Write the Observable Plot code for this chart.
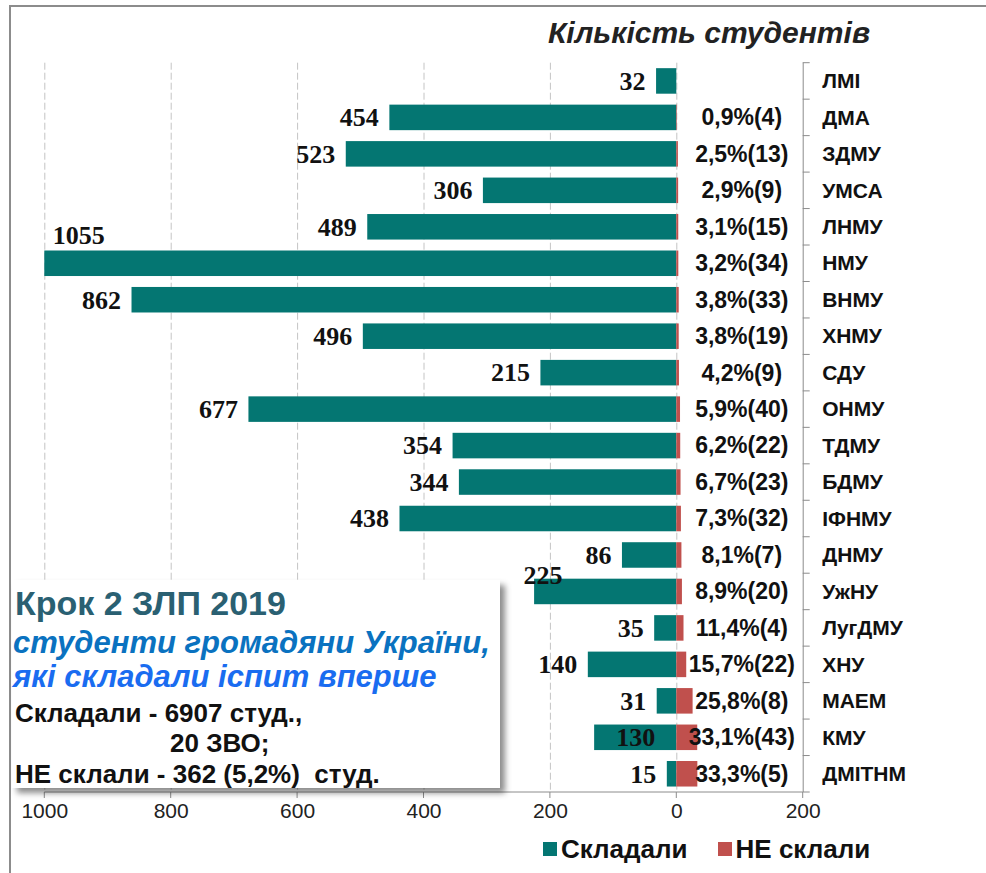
<!DOCTYPE html>
<html>
<head>
<meta charset="utf-8">
<script src="https://cdn.jsdelivr.net/npm/d3@7"></script>
<script src="https://cdn.jsdelivr.net/npm/@observablehq/plot@0.6"></script>
<style>
  body { margin: 0; background: #fff; }
  #wrap { position: relative; width: 986px; height: 873px; overflow: hidden; font-family: "Liberation Sans", Arial, sans-serif; background: #fff; }
  #chart { position: absolute; left: 0; top: 0; }
  .fr { position: absolute; background: #8c8c8c; }
  #title { position: absolute; right: 116px; top: 18px; font: italic bold 30px/30px "Liberation Sans", Arial, sans-serif; color: #222; white-space: nowrap; }
  #legend { position: absolute; left: 543px; top: 836px; height: 26px; display: flex; align-items: center; font: bold 26px/26px "Liberation Sans", Arial, sans-serif; color: #111; white-space: nowrap; }
  #legend .sw { width: 14px; height: 14px; display: inline-block; margin-right: 4px; }
  #legend .item { display: flex; align-items: center; margin-right: 30px; }
  #box { position: absolute; left: 12px; top: 580px; width: 488px; height: 208px; background: #fff; box-shadow: 5px 5px 6px rgba(0,0,0,0.45); }
  #box div { position: absolute; white-space: nowrap; font-weight: bold; }
</style>
</head>
<body>
<div id="wrap">
  <div id="chart"></div>
  <div class="fr" style="left:9px;top:5px;width:977px;height:2px;"></div>
  <div class="fr" style="left:9px;top:5px;width:2px;height:868px;"></div>
  <div id="title">Кількість студентів</div>
  <div id="box">
    <div style="left:3px;top:6px;font-size:34px;line-height:34px;color:#2a6072;">Крок 2 ЗЛП 2019</div>
    <div style="left:1px;top:47px;font-size:31px;line-height:31px;font-style:italic;color:#0a72c0;">студенти громадяни України,</div>
    <div style="left:1px;top:81px;font-size:31px;line-height:31px;font-style:italic;color:#1a6cf0;">які складали іспит вперше</div>
    <div style="left:3px;top:120px;font-size:26px;line-height:26px;color:#111;">Складали - 6907 студ.,</div>
    <div style="left:158px;top:150px;font-size:26px;line-height:26px;color:#111;">20 ЗВО;</div>
    <div style="left:3px;top:181px;font-size:26px;line-height:26px;color:#111;">НЕ склали - 362 (5,2%)&nbsp; студ.</div>
  </div>
  <div id="legend">
    <span class="item"><span class="sw" style="background:#047672"></span>Складали</span>
    <span class="item"><span class="sw" style="background:#c0504d"></span>НЕ склали</span>
  </div>
</div>
<script>
// ---- data ----
const categories = ["ЛМІ","ДМА","ЗДМУ","УМСА","ЛНМУ","НМУ","ВНМУ","ХНМУ","СДУ","ОНМУ","ТДМУ","БДМУ","ІФНМУ","ДНМУ","УжНУ","ЛугДМУ","ХНУ","МАЕМ","КМУ","ДМІТНМ"];
const tookExam   = [32, 454, 523, 306, 489, 1055, 862, 496, 215, 677, 354, 344, 438, 86, 225, 35, 140, 31, 130, 15];
const failedPct  = [0, 0.9, 2.5, 2.9, 3.1, 3.2, 3.8, 3.8, 4.2, 5.9, 6.2, 6.7, 7.3, 8.1, 8.9, 11.4, 15.7, 25.8, 33.1, 33.3];
const failedCnt  = [0, 4, 13, 9, 15, 34, 33, 19, 9, 40, 22, 23, 32, 7, 20, 4, 22, 8, 43, 5];
const xTicks = [-1000, -800, -600, -400, -200, 0, 200];

const teal = "#047672", red = "#c0504d";
const rows = categories.map((c, i) => ({cat: c, took: tookExam[i], pct: failedPct[i], n: failedCnt[i]}));
const pctLabel = d => d.pct.toFixed(1).replace(".", ",") + "%(" + d.n + ")";

// special label placements of the original
const aboveLeft = new Set(["НМУ"]);   // clipped bar, label above
const aboveBar = new Set(["УжНУ"]);
const insideBar = new Set(["КМУ"]);
const normal = rows.filter(d => !aboveLeft.has(d.cat) && !aboveBar.has(d.cat) && !insideBar.has(d.cat));

const W = 986, H = 873;
const mL = 44.3, mR = W - 802.7, mT = 62.7, mB = H - 792;

const numFont = {fontFamily: "Liberation Serif, Times New Roman, serif", fontWeight: "bold", fontSize: 26, fill: "#111"};

function rowTicks(index, scales, values, dims) {
  const g = d3.create("svg:g").attr("stroke", "#8c8c8c").attr("stroke-width", 1);
  const n = categories.length;
  const step = (dims.height - dims.marginTop - dims.marginBottom) / n;
  const xa = scales.x(200);
  for (let i = 0; i <= n; i++) {
    const yy = dims.marginTop + i * step;
    g.append("line").attr("x1", xa).attr("x2", xa + 7).attr("y1", yy).attr("y2", yy);
  }
  return g.node();
}
function bottomLine(index, scales, values, dims) {
  const yy = dims.height - dims.marginBottom;
  return d3.create("svg:line")
    .attr("x1", scales.x(-1000)).attr("x2", scales.x(200))
    .attr("y1", yy).attr("y2", yy)
    .attr("stroke", "#8c8c8c").attr("stroke-width", 1).node();
}

const chart = Plot.plot({
  width: W, height: H,
  marginLeft: mL, marginRight: mR, marginTop: mT, marginBottom: mB,
  x: {domain: [-1000, 200], axis: null},
  y: {domain: categories, paddingInner: 0.3, paddingOuter: 0.15, round: false, axis: null},
  style: {fontFamily: "Liberation Sans, Arial, sans-serif", background: "transparent", overflow: "visible"},
  marks: [
    Plot.ruleX(xTicks.filter(t => t <= 0), {stroke: "#c4c4c4", strokeDasharray: "7,3", strokeWidth: 1}),
    Plot.barX(rows, {y: "cat", x1: 0, x2: d => -d.took, fill: teal, clip: true}),
    Plot.barX(rows.filter(d => d.pct > 0), {y: "cat", x1: 0, x2: "pct", fill: red}),
    Plot.ruleX([200], {stroke: "#8c8c8c", strokeWidth: 1}),
    rowTicks,
    bottomLine,
    Plot.ruleX(xTicks, {x: d => d, stroke: "#8c8c8c", strokeWidth: 1, render: (index, scales, values, dims) => {
      const yy = dims.height - dims.marginBottom;
      const g = d3.create("svg:g").attr("stroke", "#8c8c8c");
      for (const i of index) g.append("line").attr("x1", values.x[i]).attr("x2", values.x[i]).attr("y1", yy).attr("y2", yy + 6);
      return g.node();
    }}),
    Plot.text(xTicks, {x: d => d, text: d => String(Math.abs(d)), frameAnchor: "bottom", dy: 25, fontFamily: "Liberation Sans Narrow, Arial Narrow, sans-serif", fontSize: 21, fill: "#222"}),
    // values of those who took the exam
    Plot.text(normal, {y: "cat", x: d => -d.took, text: d => String(d.took), textAnchor: "end", dx: -11, ...numFont}),
    Plot.text(rows.filter(d => aboveLeft.has(d.cat)), {y: "cat", x: -1000, text: d => String(d.took), textAnchor: "start", dx: 8, dy: -28, ...numFont}),
    Plot.text(rows.filter(d => aboveBar.has(d.cat)), {y: "cat", x: d => -d.took, text: d => String(d.took), textAnchor: "start", dx: -11, dy: -16, ...numFont}),
    Plot.text(rows.filter(d => insideBar.has(d.cat)), {y: "cat", x: d => -d.took / 2, text: d => String(d.took), textAnchor: "middle", ...numFont}),
    // failed labels
    Plot.text(rows.filter(d => d.n > 0), {y: "cat", x: 0, dx: 65, text: pctLabel, textAnchor: "middle", fontSize: 23, fontWeight: "bold", fill: "#111"}),
    // category labels
    Plot.text(categories, {y: d => d, x: 200, dx: 19, text: d => d, textAnchor: "start", fontSize: 21, fontWeight: "bold", fill: "#111"})
  ]
});
document.getElementById("chart").appendChild(chart);
</script>
</body>
</html>
